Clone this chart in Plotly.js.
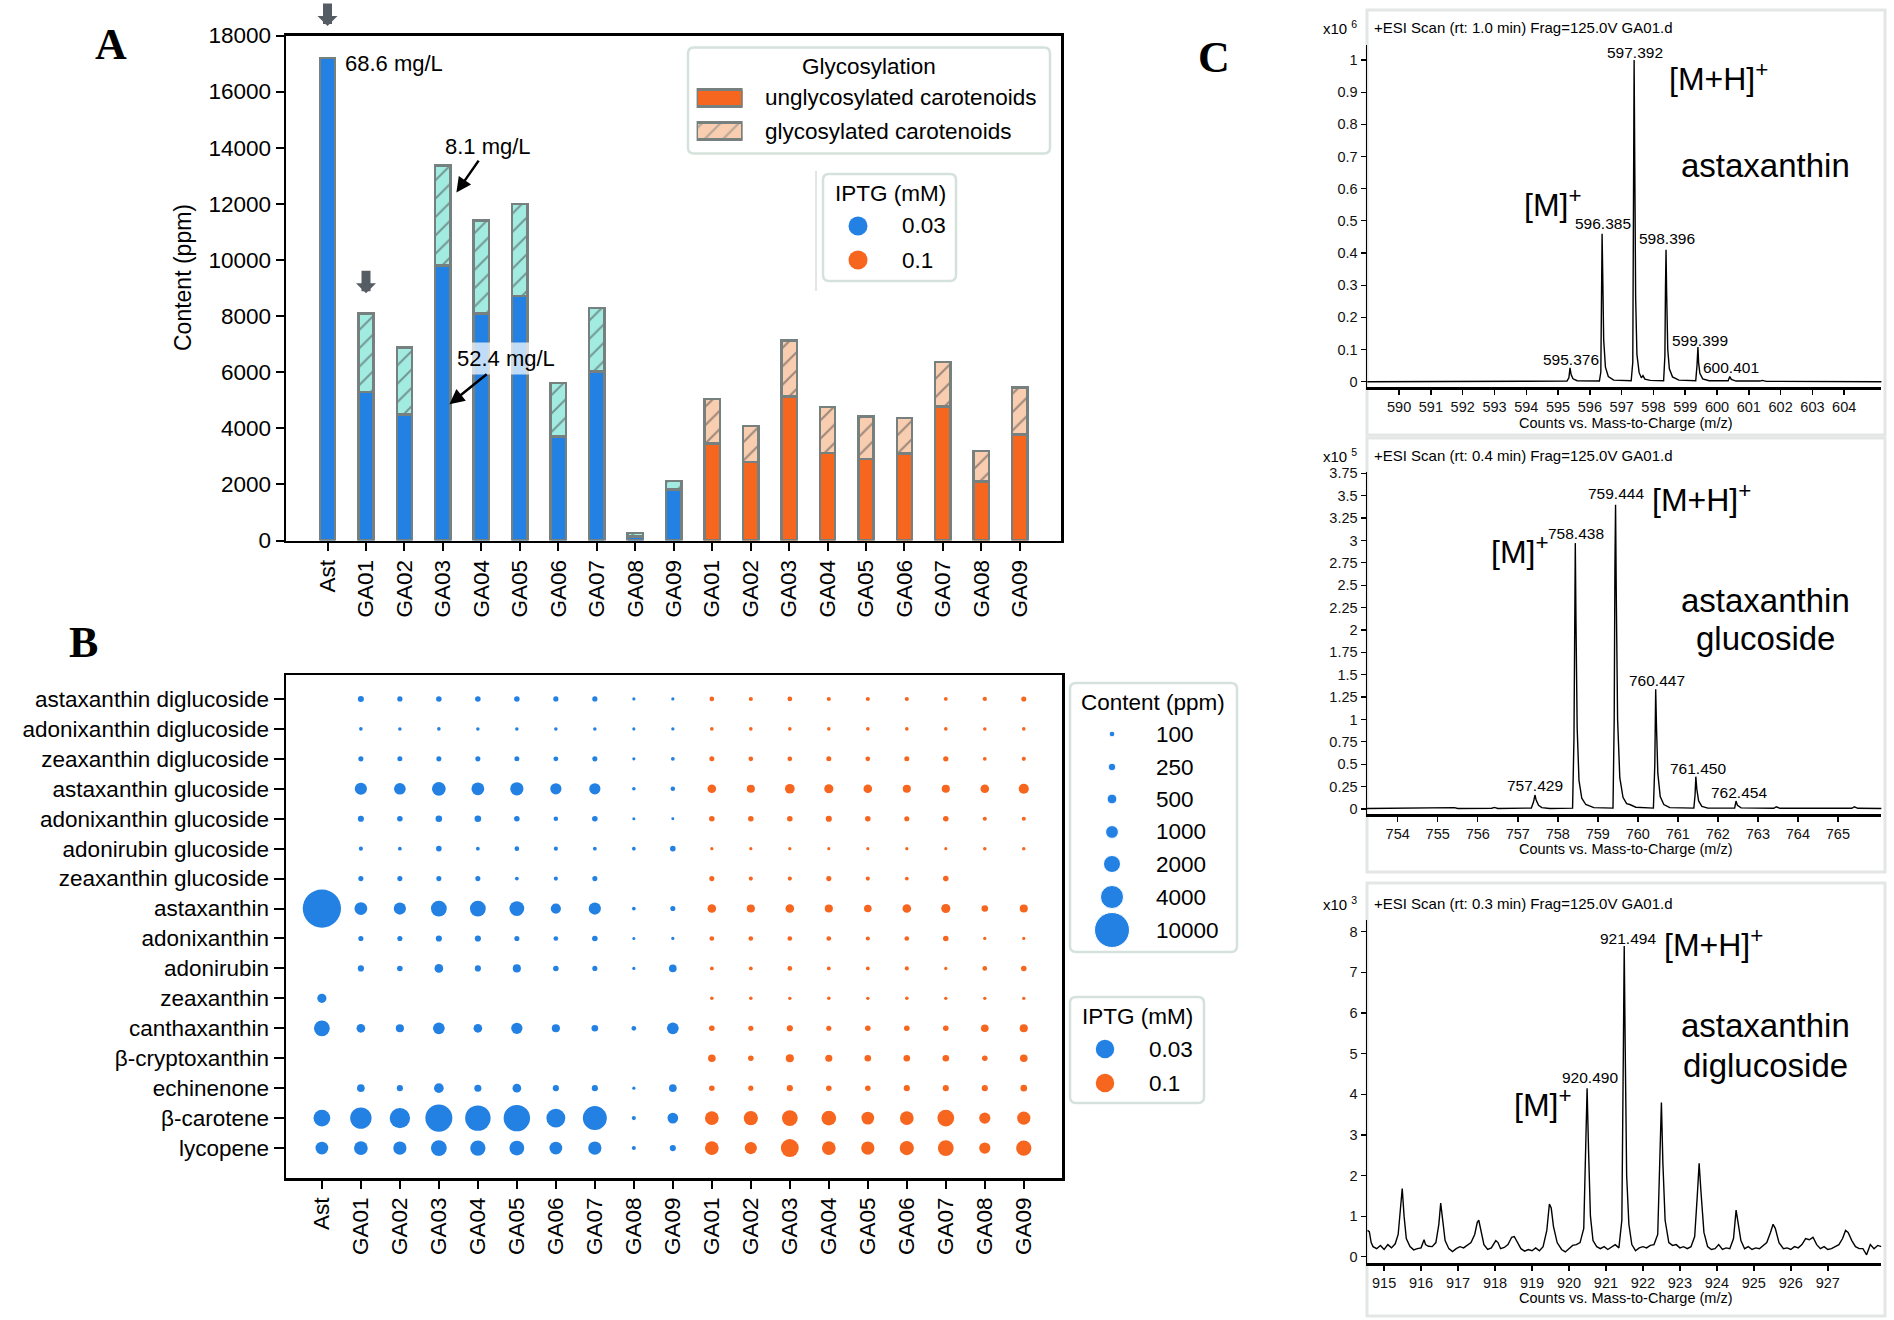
<!DOCTYPE html>
<html><head><meta charset="utf-8">
<script src="https://cdn.plot.ly/plotly-3.0.1.min.js"></script>
<style>html,body{margin:0;padding:0;background:#fff}#chart{width:1894px;height:1320px}</style>
</head><body><div id="chart"></div>
<script>
// ---------------- DATA ----------------
// Panel A
const strainLabels = ['Ast','GA01','GA02','GA03','GA04','GA05','GA06','GA07','GA08','GA09','GA01','GA02','GA03','GA04','GA05','GA06','GA07','GA08','GA09'];
const iptgGroup = ['0.03','0.03','0.03','0.03','0.03','0.03','0.03','0.03','0.03','0.03','0.1','0.1','0.1','0.1','0.1','0.1','0.1','0.1','0.1'];
const unglycosylated = [17200,5300,4500,9810,8100,8710,3710,6030,150,1820,3450,2800,5130,3120,2900,3100,4780,2100,3770];
const glycosylated   = [0,2790,2380,3550,3300,3290,1910,2250,120,295,1595,1275,1990,1630,1520,1270,1580,1085,1680];
const glycosylationNames = ['unglycosylated carotenoids','glycosylated carotenoids'];
const iptgLevels = ['0.03','0.1'];

// Panel B (content, ppm) — columns follow strainLabels
const compoundNames = ['astaxanthin diglucoside','adonixanthin diglucoside','zeaxanthin diglucoside','astaxanthin glucoside','adonixanthin glucoside','adonirubin glucoside','zeaxanthin glucoside','astaxanthin','adonixanthin','adonirubin','zeaxanthin','canthaxanthin','β-cryptoxanthin','echinenone','β-carotene','lycopene'];
const astaxanthinDiglucoside = [null,120,70,90,90,90,70,70,5,5,45,25,45,25,25,25,15,30,65];
const adonixanthinDiglucoside = [null,12,10,12,10,10,10,10,4,6,12,12,12,12,12,12,12,10,12];
const zeaxanthinDiglucoside = [null,65,60,65,65,60,55,65,4,15,60,45,45,60,45,60,75,15,25];
const astaxanthinGlucoside = [null,890,800,1200,1000,1100,720,720,12,40,360,300,490,420,360,300,300,360,560];
const adonixanthinGlucoside = [null,125,90,160,160,90,40,90,3,2,90,90,90,125,90,65,90,25,25];
const adonirubinGlucoside = [null,25,15,90,15,45,25,15,15,90,5,5,5,3,3,5,3,10,10];
const zeaxanthinGlucoside = [null,65,65,65,65,15,25,65,null,null,65,25,25,65,25,15,90,null,null];
const astaxanthin = [12100,1000,890,1680,1680,1430,560,890,15,65,360,300,360,300,250,360,420,160,300];
const adonixanthin = [null,65,65,125,125,65,45,90,3,5,45,45,45,45,25,45,90,5,5];
const adonirubin = [null,125,90,360,125,300,90,65,5,250,15,15,45,15,15,25,5,45,90];
const zeaxanthin = [420,null,null,null,null,null,null,null,null,null,10,10,8,10,8,10,8,8,8];
const canthaxanthin = [1680,360,300,800,360,720,300,160,45,800,90,65,125,65,90,90,90,250,300];
const betaCryptoxanthin = [null,null,null,null,null,null,null,null,null,null,250,90,300,200,160,160,160,90,250];
const echinenone = [null,250,125,490,200,360,125,125,5,250,90,65,125,90,90,125,125,125,160];
const betaCarotene = [1940,3390,3030,5690,5000,5450,2550,4380,25,640,1200,1300,1680,1430,1000,1200,1940,720,1100];
const lycopene = [1000,1200,1100,1680,1550,1430,1000,1100,25,125,1200,890,2240,1200,1100,1300,1680,720,1550];
const sizeLegendValues = [100,250,500,1000,2000,4000,10000];

// Panel C spectra
const ms1Mz = [589.0,594.2,594.35,594.5,595.28,595.34,595.376,595.41,595.47,595.6,596.3,596.345,596.365,596.385,596.405,596.435,596.49,596.58,596.75,597.3,597.35,597.372,597.392,597.412,597.44,597.48,597.55,597.62,597.67,597.73,597.9,598.32,598.36,598.378,598.396,598.416,598.45,598.5,598.6,598.8,599.33,599.37,599.399,599.42,599.46,599.55,599.75,600.35,600.401,600.45,600.6,601.35,601.42,601.55,605.2];
const ms1Counts = [0,0.001,0.003,0.001,0.002,0.012,0.043,0.022,0.009,0.003,0.002,0.03,0.26,0.46,0.33,0.13,0.045,0.016,0.005,0.003,0.06,0.55,1.0,0.68,0.26,0.085,0.028,0.012,0.019,0.008,0.004,0.003,0.08,0.29,0.41,0.27,0.1,0.04,0.015,0.005,0.003,0.05,0.108,0.06,0.026,0.009,0.003,0.003,0.016,0.007,0.002,0.002,0.004,0.001,0];
const ms1Ticks = [590,591,592,593,594,595,596,597,598,599,600,601,602,603,604];
const ms1Peaks = ['595.376','596.385','597.392','598.396','599.399','600.401'];

const ms2Mz = [753.2,755.35,755.42,755.5,756.35,756.42,756.5,757.34,757.395,757.429,757.46,757.52,757.6,757.8,758.37,758.405,758.42,758.438,758.455,758.485,758.53,758.6,758.7,758.9,759.38,759.41,759.428,759.444,759.462,759.495,759.55,759.63,759.72,759.8,759.95,760.39,760.425,760.447,760.468,760.5,760.56,760.65,760.8,761.4,761.43,761.45,761.475,761.52,761.6,761.75,762.42,762.454,762.49,762.58,763.4,763.46,763.55,765.35,765.41,765.5,766.1];
const ms2Counts = [0.005,0.008,0.015,0.006,0.008,0.018,0.006,0.01,0.08,0.156,0.1,0.04,0.015,0.005,0.01,0.8,2.3,2.97,2.1,0.9,0.32,0.12,0.05,0.015,0.01,1.0,2.7,3.40,2.4,1.0,0.35,0.13,0.06,0.05,0.02,0.01,0.5,1.337,0.9,0.4,0.14,0.05,0.015,0.01,0.15,0.361,0.22,0.09,0.03,0.01,0.01,0.089,0.04,0.012,0.008,0.025,0.008,0.008,0.025,0.008,0.005];
const ms2Ticks = [754,755,756,757,758,759,760,761,762,763,764,765];
const ms2Peaks = ['757.429','758.438','759.444','760.447','761.450','762.454'];

const ms3Mz = [914.55,914.6,914.65,914.7,914.8,914.9,915.0,915.1,915.2,915.3,915.38,915.44,915.49,915.54,915.6,915.7,915.8,915.9,916.0,916.08,916.12,916.2,916.3,916.4,916.48,916.53,916.58,916.65,916.75,916.85,916.95,917.05,917.15,917.25,917.35,917.45,917.52,917.56,917.62,917.7,917.8,917.9,918.02,918.08,918.15,918.25,918.35,918.45,918.52,918.6,918.7,918.8,918.9,919.0,919.1,919.2,919.3,919.4,919.47,919.52,919.58,919.68,919.8,919.9,920.0,920.1,920.2,920.3,920.4,920.45,920.49,920.53,920.58,920.65,920.75,920.85,920.95,921.05,921.15,921.25,921.35,921.43,921.47,921.494,921.52,921.56,921.62,921.7,921.8,921.9,922.0,922.1,922.2,922.3,922.4,922.46,922.5,922.54,922.6,922.7,922.8,922.9,923.0,923.1,923.2,923.3,923.4,923.47,923.52,923.57,923.65,923.75,923.85,923.95,924.05,924.15,924.25,924.35,924.45,924.52,924.57,924.65,924.75,924.85,924.95,925.05,925.15,925.25,925.35,925.45,925.52,925.58,925.68,925.8,925.9,926.0,926.1,926.2,926.3,926.4,926.5,926.6,926.7,926.8,926.9,927.0,927.1,927.2,927.3,927.4,927.48,927.55,927.65,927.75,927.85,927.95,928.05,928.15,928.25,928.35,928.45];
const ms3Counts = [0.65,0.62,0.35,0.25,0.2,0.28,0.18,0.3,0.22,0.32,0.55,1.2,1.68,1.0,0.45,0.25,0.17,0.2,0.22,0.42,0.3,0.26,0.25,0.35,0.8,1.32,0.9,0.4,0.2,0.13,0.2,0.25,0.22,0.28,0.35,0.55,0.85,0.9,0.6,0.3,0.18,0.22,0.4,0.35,0.2,0.23,0.3,0.48,0.5,0.35,0.2,0.14,0.18,0.15,0.22,0.15,0.25,0.65,1.3,1.2,0.75,0.35,0.18,0.12,0.2,0.28,0.3,0.35,0.7,2.5,4.15,2.6,1.0,0.4,0.25,0.2,0.25,0.18,0.25,0.3,0.22,0.9,5.0,7.65,5.2,2.0,0.8,0.3,0.15,0.22,0.25,0.22,0.28,0.3,0.55,2.2,3.8,2.3,0.9,0.35,0.28,0.3,0.22,0.25,0.2,0.25,0.5,1.5,2.3,1.6,0.6,0.25,0.18,0.2,0.3,0.18,0.22,0.2,0.45,1.15,0.9,0.4,0.2,0.25,0.18,0.22,0.2,0.28,0.35,0.6,0.8,0.7,0.35,0.2,0.22,0.18,0.25,0.22,0.3,0.45,0.42,0.48,0.3,0.2,0.25,0.18,0.2,0.25,0.3,0.45,0.65,0.6,0.4,0.25,0.2,0.2,0.05,0.3,0.2,0.28,0.25];
const ms3Ticks = [915,916,917,918,919,920,921,922,923,924,925,926,927];
const ms3Peaks = ['920.490','921.494'];

// ---------------- STYLE ----------------
const W = 1894, H = 1320;
const FONT = '"Liberation Sans", Arial, Helvetica, sans-serif';
const SERIF = '"Liberation Serif", "Times New Roman", serif';
const BLUE = '#2381e3', ORANGE = '#f6661f', TEAL = '#a2ebe1', PEACH = '#f8cdb0', EDGE = '#76807f', BOXC = '#d5e2dc';
const groupColor = {'0.03': BLUE, '0.1': ORANGE};
const groupLight = {'0.03': TEAL, '0.1': PEACH};
const X = p => p / W, Y = p => 1 - p / H;
const bubbleSize = v => Math.sqrt(0.1056 * v) + 2.5;
const idx = strainLabels.map((_, i) => i);
const hatch = {shape: '/', fgcolor: EDGE, size: 13, solidity: 0.16, fillmode: 'overlay'};

const traces = [];
// Panel A bars
traces.push({type: 'bar', x: idx, y: unglycosylated, width: 0.4, xaxis: 'x', yaxis: 'y', name: glycosylationNames[0],
  marker: {color: iptgGroup.map(g => groupColor[g]), line: {color: EDGE, width: 2.5}}});
traces.push({type: 'bar', x: idx, y: glycosylated, width: 0.4, xaxis: 'x', yaxis: 'y', name: glycosylationNames[1],
  marker: {color: iptgGroup.map(g => groupLight[g]), pattern: hatch, line: {color: EDGE, width: 2.5}}});

// Panel B bubbles
const compoundRows = [astaxanthinDiglucoside, adonixanthinDiglucoside, zeaxanthinDiglucoside, astaxanthinGlucoside, adonixanthinGlucoside, adonirubinGlucoside, zeaxanthinGlucoside, astaxanthin, adonixanthin, adonirubin, zeaxanthin, canthaxanthin, betaCryptoxanthin, echinenone, betaCarotene, lycopene];
iptgLevels.forEach(lvl => {
  const xs = [], ys = [], ss = [];
  compoundRows.forEach((row, r) => row.forEach((v, c) => {
    if (v != null && iptgGroup[c] === lvl) { xs.push(c); ys.push(compoundNames[r]); ss.push(bubbleSize(v)); }
  }));
  traces.push({type: 'scatter', mode: 'markers', x: xs, y: ys, xaxis: 'x2', yaxis: 'y2', name: lvl,
    marker: {size: ss, color: groupColor[lvl], opacity: 1, line: {width: 0}}});
});

// Panel C spectra
[[ms1Mz, ms1Counts, 'x3', 'y3'], [ms2Mz, ms2Counts, 'x4', 'y4'], [ms3Mz, ms3Counts, 'x5', 'y5']].forEach(s => {
  traces.push({type: 'scatter', mode: 'lines', x: s[0], y: s[1], xaxis: s[2], yaxis: s[3], line: {color: '#000', width: 1.4}});
});

// Legend symbols (pixel overlay axes x9/y9)
traces.push({type: 'scatter', mode: 'markers', x: [858, 858], y: [226, 260], xaxis: 'x9', yaxis: 'y9',
  marker: {size: 19, opacity: 1, color: iptgLevels.map(l => groupColor[l])}});
traces.push({type: 'scatter', mode: 'markers', x: [1105, 1105], y: [1049, 1083], xaxis: 'x9', yaxis: 'y9',
  marker: {size: 18.5, opacity: 1, color: iptgLevels.map(l => groupColor[l])}});
const sizeLegY = [734, 767, 799, 832, 864, 897, 930];
traces.push({type: 'scatter', mode: 'markers', x: sizeLegendValues.map(() => 1112), y: sizeLegY, xaxis: 'x9', yaxis: 'y9',
  marker: {size: sizeLegendValues.map(bubbleSize), opacity: 1, color: BLUE}});
traces.push({type: 'bar', orientation: 'h', x: [1], y: [98], width: [17], xaxis: 'x8', yaxis: 'y9',
  marker: {color: ORANGE, line: {color: EDGE, width: 2.5}}});
traces.push({type: 'bar', orientation: 'h', x: [1], y: [131], width: [17], xaxis: 'x8', yaxis: 'y9',
  marker: {color: PEACH, pattern: hatch, line: {color: EDGE, width: 2.5}}});

// ---------------- LAYOUT ----------------
const axBase = {showgrid: false, zeroline: false, showline: true, linecolor: '#000', ticks: 'outside', tickcolor: '#000', fixedrange: true};
const specX = (d0, d1, r, tv) => Object.assign({}, axBase, {domain: [X(d0), X(d1)], range: r, tickmode: 'array', tickvals: tv, ticktext: tv.map(String),
  linewidth: 2.5, ticklen: 5, tickwidth: 1.5, tickfont: {size: 14.5, color: '#111'}});
const specY = (top, bot, r, dt) => Object.assign({}, axBase, {domain: [Y(bot), Y(top)], range: r, dtick: dt, tick0: 0,
  linewidth: 1.5, ticklen: 5, tickwidth: 1.2, tickfont: {size: 14.5, color: '#111'}});

function roundRect(x0, y0, x1, y1, r) {
  const P = (x, y) => X(x).toFixed(5) + ',' + Y(y).toFixed(5);
  return 'M' + P(x0 + r, y0) + 'L' + P(x1 - r, y0) + 'Q' + P(x1, y0) + ' ' + P(x1, y0 + r) + 'L' + P(x1, y1 - r) +
    'Q' + P(x1, y1) + ' ' + P(x1 - r, y1) + 'L' + P(x0 + r, y1) + 'Q' + P(x0, y1) + ' ' + P(x0, y1 - r) + 'L' + P(x0, y0 + r) +
    'Q' + P(x0, y0) + ' ' + P(x0 + r, y0) + 'Z';
}
const boxShape = (x0, y0, x1, y1) => ({type: 'path', xref: 'paper', yref: 'paper', path: roundRect(x0, y0, x1, y1, 6),
  line: {color: BOXC, width: 2.5}, fillcolor: '#fff', layer: 'below'});
const frame = (x0, y0, x1, y1) => ({type: 'rect', xref: 'paper', yref: 'paper', x0: X(x0), x1: X(x1), y0: Y(y1), y1: Y(y0),
  line: {color: '#e4e6e6', width: 3}, fillcolor: 'rgba(0,0,0,0)', layer: 'below'});

const txt = (x, y, text, size, opts) => Object.assign({xref: 'paper', yref: 'paper', x: X(x), y: Y(y), text: text, showarrow: false,
  xanchor: 'center', yanchor: 'middle', font: {family: FONT, size: size, color: '#000'}}, opts || {});

const annotations = [
  txt(111, 45, '<b>A</b>', 44, {font: {family: SERIF, size: 44, color: '#000'}}),
  txt(83, 643, '<b>B</b>', 44, {font: {family: SERIF, size: 44, color: '#000'}}),
  txt(1214, 57, '<b>C</b>', 44, {font: {family: SERIF, size: 44, color: '#000'}}),
  txt(183, 278, 'Content (ppm)', 23, {textangle: -90}),
  // panel A bar notes
  {xref: 'x', yref: 'y', x: 0.39, y: 17000, text: '68.6 mg/L', showarrow: false, xanchor: 'left', yanchor: 'middle', font: {family: FONT, size: 22, color: '#000'}},
  {xref: 'x', yref: 'y', x: 3.35, y: 12400, ax: 32, ay: -46, text: '8.1 mg/L', showarrow: true, arrowhead: 2, arrowsize: 1.2, arrowwidth: 2.5, arrowcolor: '#000', font: {family: FONT, size: 22, color: '#000'}},
  {xref: 'x', yref: 'y', x: 3.17, y: 4857, ax: 57, ay: -46, text: '52.4 mg/L', showarrow: true, arrowhead: 2, arrowsize: 1.2, arrowwidth: 2.5, arrowcolor: '#000', bgcolor: 'rgba(255,255,255,0.72)', borderpad: 3, font: {family: FONT, size: 22, color: '#000'}},
  {xref: 'paper', yref: 'paper', x: X(327.5), y: Y(26), ax: 0, ay: -24, text: '', showarrow: true, arrowhead: 1, arrowsize: 0.37, arrowwidth: 9, arrowcolor: '#555c63'},
  {xref: 'x', yref: 'y', x: 1, y: 8810, ax: 0, ay: -24, text: '', showarrow: true, arrowhead: 1, arrowsize: 0.37, arrowwidth: 9, arrowcolor: '#555c63'},
  // legends A
  txt(869, 66, 'Glycosylation', 22.5),
  txt(763, 98, glycosylationNames[0], 22.5, {xanchor: 'left'}),
  txt(763, 131, glycosylationNames[1], 22.5, {xanchor: 'left'}),
  txt(890, 193, 'IPTG (mM)', 22.5),
  txt(900, 226, iptgLevels[0], 22.5, {xanchor: 'left'}),
  txt(900, 260, iptgLevels[1], 22.5, {xanchor: 'left'}),
  // legends B
  txt(1153, 702, 'Content (ppm)', 22.5),
  txt(1137, 1016, 'IPTG (mM)', 22.5),
  txt(1147, 1049, iptgLevels[0], 22.5, {xanchor: 'left'}),
  txt(1147, 1083, iptgLevels[1], 22.5, {xanchor: 'left'}),
];
sizeLegendValues.forEach((v, i) => annotations.push(txt(1154, sizeLegY[i], String(v), 22.5, {xanchor: 'left'})));

// spectra texts
const spec = [
  {head: 27, exp: '6', rt: '1.0', peaks: ms1Peaks, peakPos: [[1571, 359], [1603, 223], [1635, 52], [1667, 239], [1700, 341], [1731, 367]],
   mh: [1667, 77], m: [1522, 203], name: [['astaxanthin', 165]], title: 423},
  {head: 455, exp: '5', rt: '0.4', peaks: ms2Peaks, peakPos: [[1535, 785], [1576, 533], [1616, 493], [1657, 680], [1698, 769], [1739, 792]],
   mh: [1650, 498], m: [1489, 550], name: [['astaxanthin', 600], ['glucoside', 638]], title: 849},
  {head: 903, exp: '3', rt: '0.3', peaks: ms3Peaks, peakPos: [[1590, 1077], [1628, 939]],
   mh: [1662, 943], m: [1512, 1103], name: [['astaxanthin', 1025], ['diglucoside', 1065]], title: 1298},
];
spec.forEach(s => {
  annotations.push(txt(1321, s.head, 'x10 <sup>' + s.exp + '</sup>', 15, {xanchor: 'left'}));
  annotations.push(txt(1372, s.head, '+ESI Scan (rt: ' + s.rt + ' min) Frag=125.0V GA01.d', 15, {xanchor: 'left'}));
  s.peaks.forEach((p, i) => annotations.push(txt(s.peakPos[i][0], s.peakPos[i][1], p, 15.5)));
  annotations.push(txt(s.mh[0], s.mh[1], '[M+H]<sup>+</sup>', 32, {xanchor: 'left'}));
  annotations.push(txt(s.m[0], s.m[1], '[M]<sup>+</sup>', 32, {xanchor: 'left'}));
  s.name.forEach(n => annotations.push(txt(1765, n[1], n[0], 33)));
  annotations.push(txt(1626, s.title, 'Counts vs. Mass-to-Charge (m/z)', 14.5));
});

const layout = {
  width: W, height: H, margin: {l: 0, r: 0, t: 0, b: 0}, paper_bgcolor: '#fff', plot_bgcolor: 'rgba(0,0,0,0)',
  font: {family: FONT, size: 22.5, color: '#000'}, showlegend: false, barmode: 'stack',
  xaxis: Object.assign({}, axBase, {domain: [X(286), X(1061)], range: [-1.08, 19.07], tickmode: 'array', tickvals: idx, ticktext: strainLabels,
    tickangle: -90, ticklen: 8, tickwidth: 2, linewidth: 2.5, mirror: true, anchor: 'y', tickfont: {size: 22.5}}),
  yaxis: Object.assign({}, axBase, {domain: [Y(540.5), Y(35.5)], range: [0, 18000], dtick: 2000, tickformat: 'd', ticklen: 8, tickwidth: 2,
    linewidth: 2.5, mirror: true, anchor: 'x', tickfont: {size: 22.5}}),
  xaxis2: Object.assign({}, axBase, {domain: [X(286), X(1062)], range: [-0.92, 18.98], tickmode: 'array', tickvals: idx, ticktext: strainLabels,
    tickangle: -90, ticklen: 8, tickwidth: 2, linewidth: 2.5, mirror: true, anchor: 'y2', tickfont: {size: 22.5}}),
  yaxis2: Object.assign({}, axBase, {domain: [Y(1178), Y(675)], type: 'category', categoryorder: 'array', categoryarray: compoundNames.slice().reverse(),
    range: [-1.0, 15.8], ticklen: 10, tickwidth: 2, linewidth: 2.5, mirror: true, anchor: 'x2', tickfont: {size: 22.5}}),
  xaxis3: Object.assign(specX(1367, 1881.4, [588.99, 605.17], ms1Ticks), {anchor: 'y3'}),
  yaxis3: Object.assign(specY(45, 387.3, [-0.0174, 1.0466], 0.1), {anchor: 'x3'}),
  xaxis4: Object.assign(specX(1367, 1881.4, [753.233, 766.087], ms2Ticks), {anchor: 'y4'}),
  yaxis4: Object.assign(specY(471.7, 814, [-0.056, 3.768], 0.25), {anchor: 'x4'}),
  xaxis5: Object.assign(specX(1367, 1881.4, [914.537, 928.45], ms3Ticks), {anchor: 'y5'}),
  yaxis5: Object.assign(specY(920, 1263.3, [-0.16, 8.29], 1), {anchor: 'x5'}),
  xaxis8: {domain: [X(696.6), X(742.6)], range: [0, 1], visible: false, fixedrange: true, anchor: 'y9'},
  xaxis9: {domain: [0, 1], range: [0, W], visible: false, fixedrange: true, anchor: 'y9'},
  yaxis9: {domain: [0, 1], range: [H, 0], visible: false, fixedrange: true, anchor: 'x9'},
  shapes: [
    boxShape(688, 47.5, 1050, 153.6),
    boxShape(823, 174, 956, 281),
    {type: 'line', xref: 'paper', yref: 'paper', x0: X(816), x1: X(816), y0: Y(171), y1: Y(291), line: {color: '#d8dcdc', width: 1.5}, layer: 'below'},
    boxShape(1070, 683, 1237, 952),
    boxShape(1070, 997, 1204, 1103),
    frame(1367, 10, 1885, 435),
    frame(1367, 438, 1885, 872),
    frame(1367, 883, 1885, 1316),
  ],
  annotations: annotations,
};

Plotly.newPlot('chart', traces, layout, {displayModeBar: false, staticPlot: true});
</script>
</body></html>
